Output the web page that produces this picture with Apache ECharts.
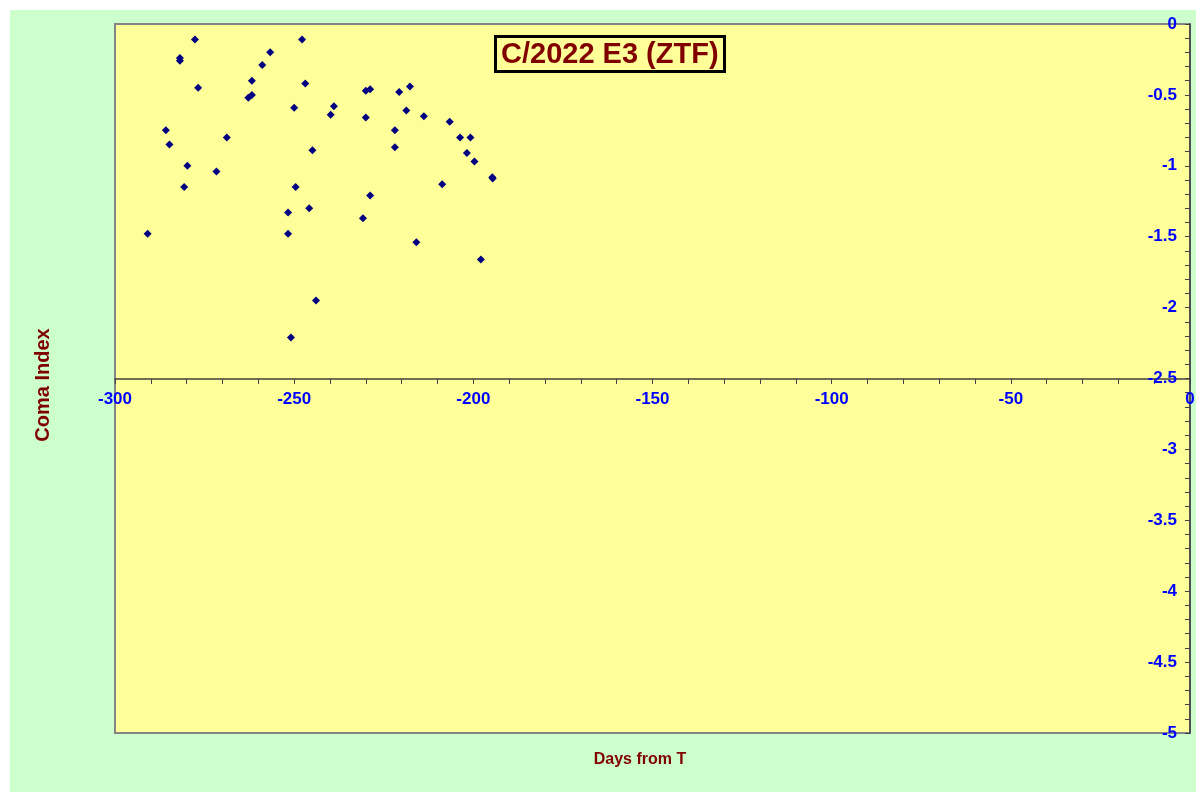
<!DOCTYPE html>
<html>
<head>
<meta charset="utf-8">
<script src="https://cdn.jsdelivr.net/npm/echarts@6/dist/echarts.min.js"></script>
<style>
html,body{margin:0;padding:0;background:#ffffff;width:1196px;height:792px;overflow:hidden;}
#bg{position:absolute;left:10px;top:10px;width:1186px;height:782px;background:#CCFFCC;}
#chart{position:absolute;left:0;top:0;width:1196px;height:792px;}
</style>
</head>
<body>
<div id="bg"></div>
<div id="chart"></div>
<script>
const chartTitle = "C/2022 E3 (ZTF)";
const xAxisTitle = "Days from T";
const yAxisTitle = "Coma Index";
const xRange = [-300, 0];
const yRange = [-5, 0];
const days = [-290.9,-285.8,-284.8,-281.9,-281.9,-280.7,-279.8,-277.7,-276.8,-271.7,
  -268.8,-262.8,-261.8,-261.8,-258.9,-256.7,-251.7,-251.7,-250.9,-250.0,
  -249.6,-247.8,-246.9,-245.8,-244.9,-243.9,-239.8,-238.9,-230.8,-230.0,
  -230.0,-228.8,-228.8,-221.9,-221.9,-220.7,-218.7,-217.7,-215.9,-213.8,
  -208.7,-206.6,-203.7,-201.8,-200.8,-199.7,-197.9,-194.7,-194.6];
const comaIndex = [-1.48,-0.75,-0.85,-0.24,-0.26,-1.15,-1.00,-0.11,-0.45,-1.04,
  -0.80,-0.52,-0.50,-0.40,-0.29,-0.20,-1.33,-1.48,-2.21,-0.59,
  -1.15,-0.11,-0.42,-1.30,-0.89,-1.95,-0.64,-0.58,-1.37,-0.47,
  -0.66,-0.46,-1.21,-0.75,-0.87,-0.48,-0.61,-0.44,-1.54,-0.65,
  -1.13,-0.69,-0.80,-0.91,-0.80,-0.97,-1.66,-1.08,-1.09];

const points = days.map((d, i) => [d, comaIndex[i]]);

const chart = echarts.init(document.getElementById('chart'), null, {renderer: 'canvas'});
const font = 'Liberation Sans, Arial, sans-serif';
chart.setOption({
  animation: false,
  backgroundColor: 'transparent',
  title: {
    text: chartTitle,
    left: 495, top: 36,
    padding: [3, 6, 1, 6],
    backgroundColor: '#FFFF99',
    borderColor: '#000000',
    borderWidth: 3,
    textStyle: {color: '#800000', fontSize: 29, fontWeight: 'bold', fontFamily: font, lineHeight: 32}
  },
  grid: {
    left: 115, top: 24, right: 6, bottom: 59,
    show: true,
    backgroundColor: '#FFFF99',
    borderColor: '#858585',
    borderWidth: 2,
    containLabel: false,
    outerBoundsMode: 'none'
  },
  xAxis: {
    type: 'value',
    min: xRange[0], max: xRange[1], interval: 50,
    position: 'bottom',
    offset: -354,
    axisLine: {show: true, onZero: false, lineStyle: {color: '#404040', width: 1.5}},
    axisTick: {show: true, inside: false, length: 5, lineStyle: {color: '#404040'}},
    minorTick: {show: true, splitNumber: 5, length: 5, lineStyle: {color: '#404040'}},
    splitLine: {show: false},
    axisLabel: {
      show: true, margin: 12, color: '#0000FF', fontSize: 17, fontWeight: 'bold',
      fontFamily: font, showMinLabel: true, showMaxLabel: true
    }
  },
  yAxis: {
    type: 'value',
    min: yRange[0], max: yRange[1], interval: 0.5,
    position: 'right',
    axisLine: {show: true, onZero: false, lineStyle: {color: '#404040', width: 1.5}},
    axisTick: {show: true, inside: true, length: 5, lineStyle: {color: '#404040'}},
    minorTick: {show: true, splitNumber: 5, length: 5, lineStyle: {color: '#404040'}},
    splitLine: {show: false},
    axisLabel: {
      show: true, inside: true, margin: 13, color: '#0000FF', fontSize: 17, fontWeight: 'bold',
      fontFamily: font, showMinLabel: true, showMaxLabel: true
    }
  },
  graphic: [
    {
      type: 'text', x: 640, y: 760,
      style: {text: xAxisTitle, fill: '#800000', font: 'bold 16px ' + font, align: 'center', verticalAlign: 'middle'}
    },
    {
      type: 'text', x: 43, y: 385, rotation: Math.PI / 2,
      style: {text: yAxisTitle, fill: '#800000', font: 'bold 20px ' + font, align: 'center', verticalAlign: 'middle'}
    }
  ],
  series: [{
    type: 'scatter',
    data: points,
    symbol: 'diamond',
    symbolSize: 8,
    itemStyle: {color: '#000080', opacity: 1}
  }]
});
</script>
</body>
</html>
